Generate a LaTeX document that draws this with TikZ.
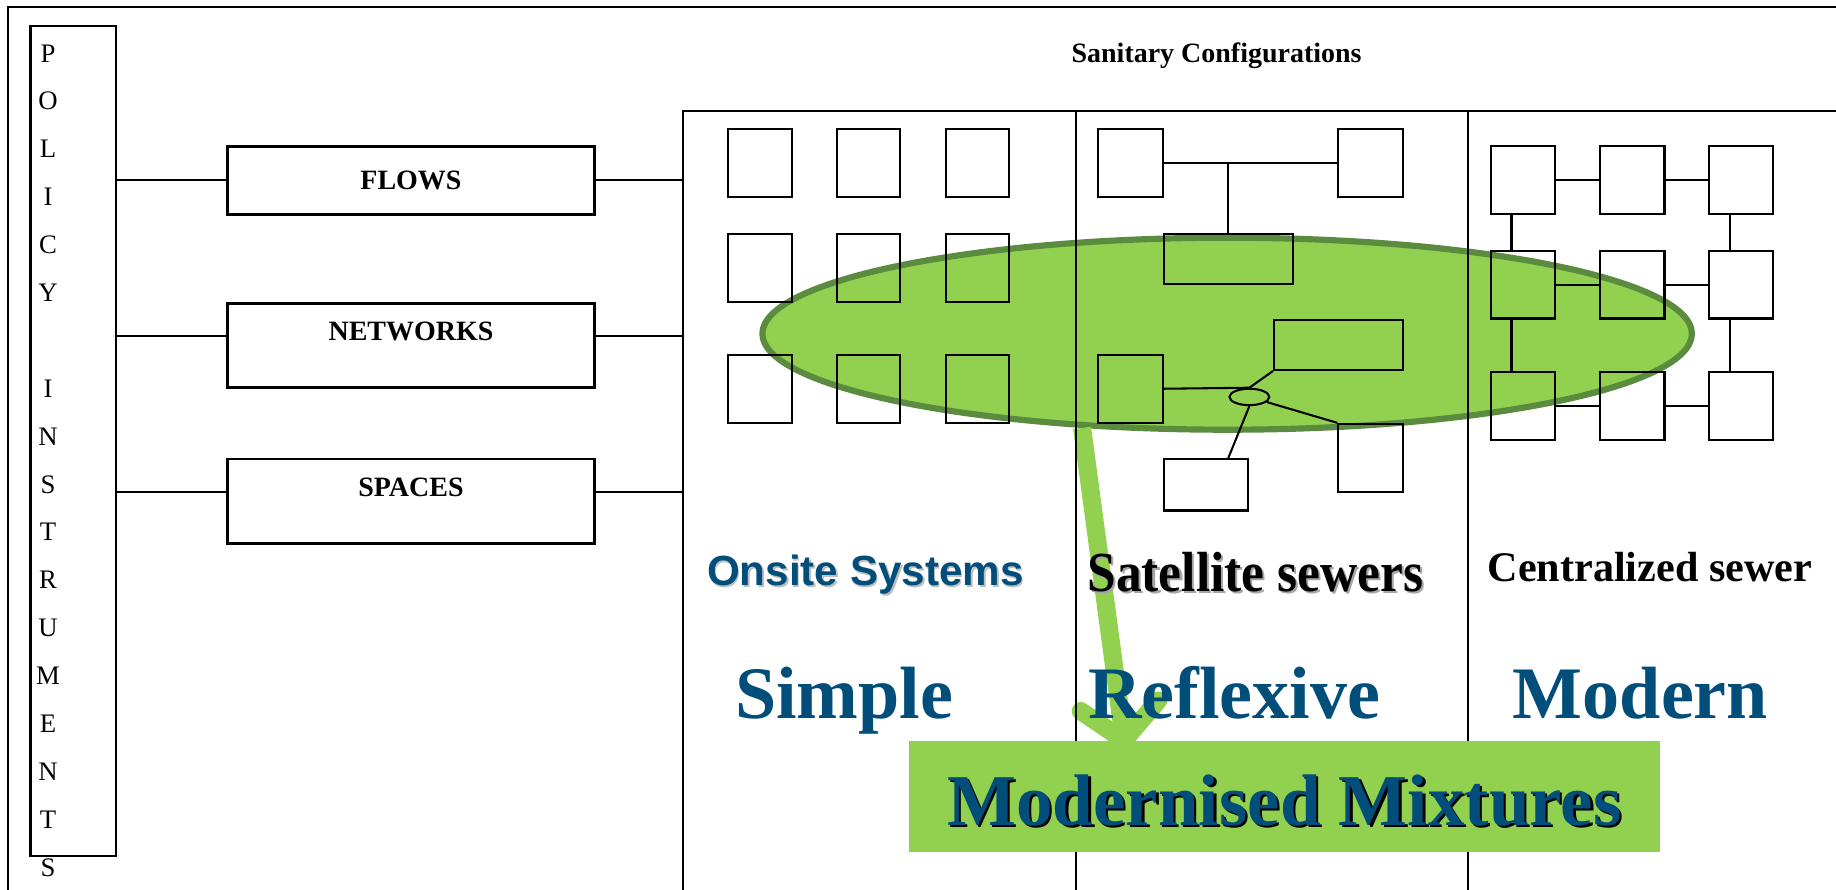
\documentclass[tikz,border=0pt]{standalone}
\usepackage{fontspec}
\setmainfont{Liberation Serif}
\newfontfamily\arialfont{Liberation Sans}
\usepackage{tikz}
\usetikzlibrary{positioning,shapes,arrows.meta,calc}
\definecolor{leafgreen}{HTML}{92D050}
\definecolor{ovaledge}{HTML}{5B8B3F}
\definecolor{deepblue}{HTML}{014E7A}
\newcommand{\shadowed}[3]{\leavevmode\rlap{\hspace{#1}\raisebox{-#1}{\textcolor{#2}{#3}}}#3}

\begin{document}
\begin{tikzpicture}[x=0.02cm,y=-0.02cm,font=\fontsize{13.6}{16}\selectfont]
	\tikzset{box style/.style={draw, line width=1.3pt, inner sep=0, minimum width=6.28cm, font=\fontsize{13.6}{16}\selectfont\bfseries},
		sq style/.style={draw, line width=1pt, inner sep=0, minimum width=1.1cm, minimum height=1.16cm},
		wide style/.style={draw, line width=1pt, inner sep=0, minimum width=2.2cm, minimum height=0.86cm},
		wire/.style={line width=1pt},
		frame/.style={line width=0.9pt},
		big label/.style={anchor=base, text=deepblue, font=\fontsize{36}{40}\selectfont\bfseries}}
	\useasboundingbox (0,0) rectangle (1568,760);
	\node[ellipse, fill=leafgreen, draw=ovaledge, line width=3pt, minimum width=15.88cm, minimum height=3.28cm, inner sep=0] (oval) at (1048,285) {};
	\coordinate (tip) at (961,640);
	\draw[leafgreen, line width=8.8pt, -{Straight Barb[length=17pt,width=38pt,round]}] (oval.213) -- (tip);
	\coordinate (corner) at (7,6);
	\coordinate (cfg) at (583,95);
	\draw[frame] (7,760) -- (corner) -- (1568,6);
	\draw[frame] (583,760) -- (cfg) -- (1568,95);
	\draw[frame] (919,95) -- (919,760);
	\draw[frame] (1254,95) -- (1254,760);
	\node[anchor=base, font=\fontsize{13.6}{16}\selectfont\bfseries] (title) at (1039,53) {Sanitary Configurations};
	\node[draw, line width=1.3pt, minimum width=1.46cm, minimum height=14.18cm, inner sep=0] (policy) at (62.5,376.5) {};
	\foreach \ch [count=\i] in {P,O,L,I,C,Y,{},I,N,S,T,R,U,M,E,N,T,S}
		\node[anchor=base, font=\fontsize{13}{15}\selectfont] (letter\i) at (41,{53+40.9*(\i-1)}) {\ch};
	\node[box style, minimum height=1.16cm] (flows) at (351,154) {FLOWS};
	\node[box style, minimum height=1.44cm, text height=0.33cm, text depth=0.5cm] (networks) at (351,295) {NETWORKS};
	\node[box style, minimum height=1.44cm, text height=0.33cm, text depth=0.5cm] (spaces) at (351,428) {SPACES};
	\coordinate (nw) at ($(networks.north west)!0.39!(networks.south west)$);
	\coordinate (sp) at ($(spaces.north west)!0.40!(spaces.south west)$);
	\draw[wire] (flows.west) -- (flows.west -| policy.east);
	\draw[wire] (nw) -- (nw -| policy.east);
	\draw[wire] (sp) -- (sp -| policy.east);
	\draw[wire] (flows.east) -- (flows.east -| cfg);
	\draw[wire] (nw -| networks.east) -- (nw -| cfg);
	\draw[wire] (sp -| spaces.east) -- (sp -| cfg);
	\foreach \x [count=\i] in {649,742,835}
		\foreach \y [count=\j] in {139,229,332}
			\node[sq style, minimum width=1.08cm] (o\j\i) at (\x,\y) {};
	\node[sq style] (s1) at (965.5,139) {};
	\node[sq style] (s2) at (1170.5,139) {};
	\node[wide style] (s3) at (1049,221) {};
	\node[wide style] (s4) at (1143,294.5) {};
	\node[sq style] (s5) at (965.5,332) {};
	\node[sq style] (s6) at (1170.5,391) {};
	\node[sq style, minimum width=1.44cm, minimum height=0.88cm] (s7) at (1030,414) {};
	\node[ellipse, draw, line width=1pt, minimum width=0.68cm, minimum height=0.28cm, inner sep=0] (hub) at (1067,339) {};
	\draw[wire] (s1) -- (s2);
	\draw[wire] (s3.north) -- (s3.north |- s1.east);
	\draw[wire] (s5.east) -- (hub.north);
	\draw[wire] (hub.north) -- (s4.south west);
	\draw[wire] (hub) -- (s6.north west);
	\draw[wire] (hub.south) -- (s7.north -| s3.north);
	\foreach \x [count=\i] in {1300.5,1394,1487}
		\foreach \y [count=\j] in {154,243,347}
			\node[sq style] (c\j\i) at (\x,\y) {};
	\foreach \j in {1,2,3}
		\draw[wire] (c\j1) -- (c\j2) (c\j2) -- (c\j3);
	\foreach \i in {1,3}
		\foreach \j/\k in {1/2,2/3}
			\draw[wire] ($(c\j\i.south west)!0.33!(c\j\i.south east)$) -- ($(c\k\i.north west)!0.33!(c\k\i.north east)$);
	\node[anchor=base, text=deepblue, font=\arialfont\bfseries\fontsize{20.5}{24}\selectfont] (onsite) at (739,500) {\shadowed{0.9pt}{black!25}{Onsite Systems}};
	\node[anchor=base, font=\fontsize{25}{30}\selectfont\bfseries] (satellite) at (1072,505) {\shadowed{1.1pt}{black!35}{\scalebox{1}[1.1]{Satellite sewers}}};
	\node[anchor=base, font=\fontsize{20.5}{24}\selectfont\bfseries] (central) at (1409,497) {Centralized sewer};
	\node[big label] (simple) at (721,614) {Simple};
	\node[big label] (reflexive) at (1054,614) {Reflexive};
	\node[big label] (modern) at (1401,614) {Modern};
	\node[fill=leafgreen, minimum width=12.84cm, minimum height=1.9cm, inner sep=0, text height=1.2cm, text depth=0.22cm, text=deepblue, font=\fontsize{35.5}{40}\selectfont\bfseries] (mix) at (1097,680.5) {\shadowed{1.1pt}{black}{Modernised Mixtures}\hspace{0.36cm}};
\end{tikzpicture}
\end{document}
